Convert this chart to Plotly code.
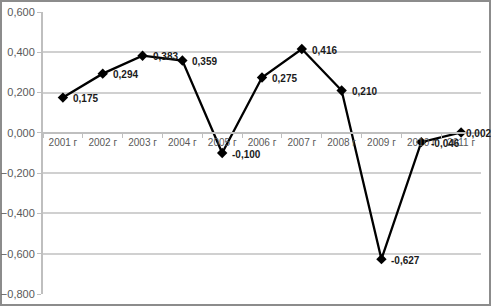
import plotly.graph_objects as go

years = ["2001 г", "2002 г", "2003 г", "2004 г", "2005 г", "2006 г",
         "2007 г", "2008 г", "2009 г", "2010 г", "2011 г"]
values = [0.175, 0.294, 0.383, 0.359, -0.100, 0.275, 0.416, 0.210, -0.627, -0.046, 0.002]
labels = [f"{v:.3f}".replace(".", ",") for v in values]
y_ticks = [0.6, 0.4, 0.2, 0.0, -0.2, -0.4, -0.6, -0.8]

font_family = "Liberation Sans, Arial, sans-serif"

fig = go.Figure()
fig.add_trace(go.Scatter(
    x=years, y=values,
    mode="lines+markers",
    line=dict(color="black", width=2.3),
    marker=dict(symbol="diamond", size=8, color="black"),
    cliponaxis=False,
    showlegend=False,
))

n = len(years)
annotations = [
    dict(x=xv, y=yv, xref="x", yref="y", text="<b>" + t + "</b>",
         showarrow=False, xanchor="left", yanchor="middle",
         xshift=(3 if i == n - 1 else 8), yshift=-1,
         font=dict(size=10, color="#1a1a1a", family=font_family))
    for i, (xv, yv, t) in enumerate(zip(years, values, labels))
]

fig.update_layout(
    width=491, height=306,
    margin=dict(l=43, r=10, t=12, b=12),
    paper_bgcolor="white", plot_bgcolor="white",
    separators=", ",
    font=dict(family=font_family, size=11, color="#595959"),
    annotations=annotations,
    xaxis=dict(
        type="category",
        range=[-0.5, n - 0.5],
        anchor="free", position=0.8 / 1.4,
        automargin=False,
        tickangle=0,
        showline=True, linecolor="#bfbfbf", linewidth=2,
        ticks="outside", ticklen=4, tickcolor="#bfbfbf",
        tickson="boundaries",
        showgrid=False, zeroline=False,
        tickfont=dict(size=10, color="#595959"),
    ),
    yaxis=dict(
        range=[-0.8, 0.6],
        automargin=False,
        tickvals=y_ticks,
        tickformat=".3f",
        showline=True, linecolor="#bfbfbf", linewidth=2,
        ticks="outside", ticklen=4, tickcolor="#bfbfbf",
        showgrid=True, gridcolor="#d0d0d0", gridwidth=2,
        zeroline=False,
        tickfont=dict(size=11, color="#595959"),
    ),
    shapes=[dict(type="rect", xref="paper", yref="paper",
                 x0=-42/438, x1=1 + 9/438, y0=-11/282, y1=1 + 11/282,
                 line=dict(color="#8c8c8c", width=2), layer="below")],
)

fig.write_html("out.html", config={"displayModeBar": False},
               post_script="document.body.style.margin='0';")
